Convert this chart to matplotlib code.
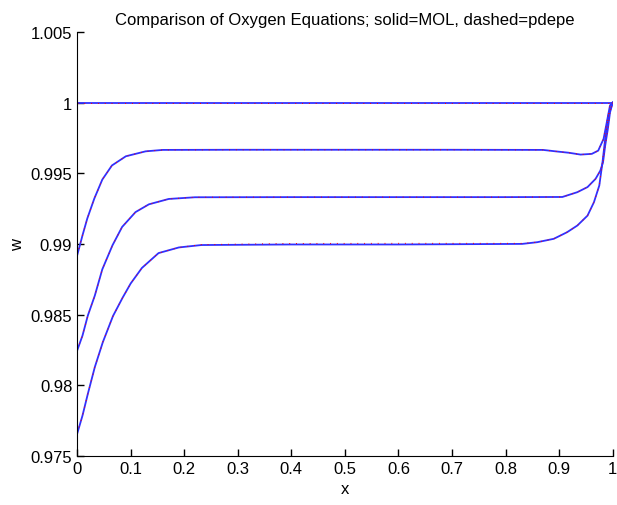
import matplotlib
matplotlib.use("Agg")
import matplotlib.pyplot as plt
import numpy as np

plt.rcParams['font.family'] = ['Liberation Sans', 'DejaVu Sans']

# values, x in [0, 1]
x_top = [0.0, 1.0]
w_top = [1.0, 1.0]

x_c1 = [0.0, 0.01, 0.019, 0.032, 0.047, 0.065, 0.091, 0.128, 0.16, 0.3, 0.5, 0.7, 0.87,
        0.893, 0.918, 0.94, 0.961, 0.973, 0.983, 0.989, 0.995, 1.0]
w_c1 = [0.98918, 0.9906, 0.9918, 0.9932, 0.99455, 0.99555, 0.9962, 0.99655, 0.99665,
        0.99666, 0.99666, 0.99666, 0.99665, 0.99655, 0.99645, 0.99632, 0.99637, 0.9966,
        0.99743, 0.9986, 0.9998, 1.0]

x_c2 = [0.0, 0.01, 0.02, 0.033, 0.047, 0.066, 0.084, 0.109, 0.134, 0.171, 0.22, 0.4,
        0.6, 0.8, 0.906, 0.934, 0.953, 0.968, 0.977, 0.982, 0.986, 0.991, 0.995, 1.0]
w_c2 = [0.98245, 0.98351, 0.98493, 0.98634, 0.9882, 0.9899, 0.9912, 0.99225, 0.9928,
        0.99318, 0.9933, 0.99331, 0.99331, 0.99331, 0.99332, 0.99366, 0.99402, 0.9946,
        0.99519, 0.99578, 0.99696, 0.99814, 0.9993, 1.0]

x_c3 = [0.0, 0.01, 0.02, 0.033, 0.048, 0.067, 0.085, 0.1, 0.121, 0.152, 0.19, 0.232,
        0.4, 0.6, 0.831, 0.859, 0.89, 0.915, 0.934, 0.953, 0.965, 0.975, 0.981, 0.986,
        0.992, 1.0]
w_c3 = [0.97656, 0.97785, 0.97939, 0.98128, 0.98305, 0.9849, 0.9862, 0.9872, 0.9883,
        0.98935, 0.98975, 0.98992, 0.98996, 0.98996, 0.99, 0.99012, 0.99036, 0.99083,
        0.9913, 0.992, 0.99295, 0.99413, 0.99578, 0.99743, 0.99908, 1.0]
# pdepe sits a hair above MOL on the bottom plateau
w_c3_pde = [0.97656, 0.97785, 0.97939, 0.98128, 0.98305, 0.9849, 0.9862, 0.9872, 0.9883,
            0.98935, 0.98975, 0.98995, 0.99003, 0.99004, 0.99004, 0.99012, 0.99036,
            0.99083, 0.9913, 0.992, 0.99295, 0.99413, 0.99578, 0.99743, 0.99908, 1.0]

fig = plt.figure(figsize=(6.17, 5.06), dpi=100)
ax = fig.add_axes([0.125, 0.097, 0.868, 0.838])

mol = [(x_top, w_top), (x_c1, w_c1), (x_c2, w_c2), (x_c3, w_c3)]
pde = [(x_top, w_top), (x_c1, w_c1), (x_c2, w_c2), (x_c3, w_c3_pde)]

for xs, ws in mol:
    ax.plot(xs, ws, color='#3030ff', lw=1.3, solid_joinstyle='round')
for xs, ws in pde:
    ax.plot(xs, ws, color='red', lw=0.7, ls=(0, (1, 6)))

ax.set_xlim(0, 1)
ax.set_ylim(0.975, 1.005)
ax.set_xticks(np.arange(0, 1.01, 0.1))
ax.set_xticklabels(['0', '0.1', '0.2', '0.3', '0.4', '0.5', '0.6', '0.7', '0.8', '0.9', '1'])
ax.set_yticks([0.975, 0.98, 0.985, 0.99, 0.995, 1.0, 1.005])
ax.set_yticklabels(['0.975', '0.98', '0.985', '0.99', '0.995', '1', '1.005'])
ax.tick_params(direction='in', length=5, labelsize=12, width=1)
ax.spines['top'].set_visible(False)
ax.spines['right'].set_visible(False)
ax.set_xlabel('x', fontsize=12)
ax.set_ylabel('w', fontsize=12)
ax.set_title('Comparison of Oxygen Equations; solid=MOL, dashed=pdepe', fontsize=12)

fig.savefig('out.png', dpi=100)
